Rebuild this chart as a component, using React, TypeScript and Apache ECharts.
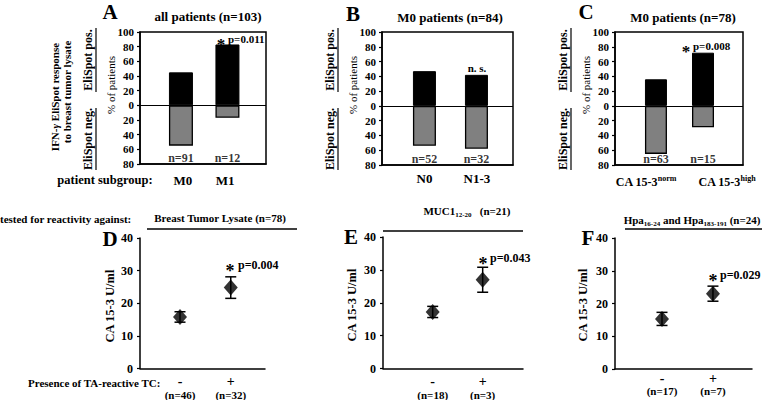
import React, { useEffect, useRef } from 'react';
import * as echarts from 'echarts';

const FONT = '"Liberation Serif", "Times New Roman", Times, serif';

// ---------- Top panels: IFN-γ EliSpot response (% of patients) ----------
// Panel A: all patients (n=103)
const catsA = ['M0', 'M1'];
const posA = [45, 83];
const negA = [55, 17];
const nA = [91, 12];
// Panel B: M0 patients (n=84)
const catsB = ['N0', 'N1-3'];
const posB = [47, 42];
const negB = [54, 58];
const nB = [52, 32];
// Panel C: M0 patients (n=78)
const catsC = ['norm', 'high'];
const posC = [36, 72];
const negC = [65, 29];
const nC = [63, 15];

const topTitles = ['all patients (n=103)', 'M0 patients (n=84)', 'M0 patients (n=78)'];
const topPText = ['p=0.011', 'n. s.', 'p=0.008'];
const topYTicks = [-80, -60, -40, -20, 0, 20, 40, 60, 80, 100];

// ---------- Bottom panels: CA 15-3 U/ml (mean ± error) ----------
const groups = ['-', '+'];
const meanD = [15.8, 24.8];
const errD = [1.6, 3.3];
const nD = [46, 32];
const meanE = [17.2, 27.0];
const errE = [1.7, 3.8];
const nE = [18, 3];
const meanF = [15.3, 23.0];
const errF = [2.0, 2.3];
const nF = [17, 7];
const bottomPText = ['p=0.004', 'p=0.043', 'p=0.029'];

// ---------- layout ----------
const topLayout = [
  { letter: 'A', cats: catsA, pos: posA, neg: negA, n: nA, grid: { left: 140, top: 32, width: 126, height: 132 }, xs: [0.325, 0.694], lxs: [0.341, 0.675], barW: 24, margin: 9, fs: 13, letterPos: [110, 12], titlePos: [208, 16], star: [221, 40], pPos: [228, 39], pAlign: 'left' },
  { letter: 'B', cats: catsB, pos: posB, neg: negB, n: nB, grid: { left: 382, top: 32, width: 131, height: 133 }, xs: [0.324, 0.721], lxs: [0.324, 0.725], barW: 23, margin: 6, fs: 13, letterPos: [353, 14], titlePos: [450, 17], star: null, pPos: [477, 68], pAlign: 'center' },
  { letter: 'C', cats: catsC, pos: posC, neg: negC, n: nC, grid: { left: 615, top: 32, width: 128, height: 133 }, xs: [0.32, 0.6875], lxs: [0.242, 0.875], barW: 22, margin: 9, fs: 12, letterPos: [586, 12], titlePos: [683, 17], star: [686, 47], pPos: [693, 46], pAlign: 'left' },
];

const bottomLayout = [
  { letter: 'D', mean: meanD, err: errD, n: nD, grid: { left: 140, top: 238, width: 125, height: 131 }, xs: [0.32, 0.726], letterPos: [110, 239], yname: [110, 306], star: [230, 266], pPos: [238, 265], line: [147, 229, 297], margin: 6, sLH: 14, nLH: 12 },
  { letter: 'E', mean: meanE, err: errE, n: nE, grid: { left: 383, top: 237, width: 140, height: 132 }, xs: [0.355, 0.712], letterPos: [351, 237], yname: [352, 305], star: [483, 259], pPos: [490, 258], line: [383, 231, 523], margin: 6, sLH: 14, nLH: 12 },
  { letter: 'F', mean: meanF, err: errF, n: nF, grid: { left: 615, top: 238, width: 137, height: 131 }, xs: [0.343, 0.715], letterPos: [588, 238], yname: [583, 305], star: [713, 276], pPos: [720, 275], line: [625, 229, 762], margin: 2, sLH: 14, nLH: 11 },
];

const R = Math.PI / 2;

const txt = (x: number, y: number, text: string, size: number, opts: any = {}) => ({
  type: 'text',
  x,
  y,
  rotation: opts.rot || 0,
  z: 100,
  style: {
    text,
    fill: '#000',
    fontFamily: FONT,
    fontSize: size,
    fontWeight: opts.weight || 'bold',
    fontStyle: opts.style || 'normal',
    align: opts.align || 'center',
    verticalAlign: 'middle',
    rich: opts.rich,
  },
});
const ln = (x1: number, y1: number, x2: number, y2: number, w = 1.2) => ({
  type: 'line',
  z: 100,
  shape: { x1, y1, x2, y2 },
  style: { stroke: '#000', lineWidth: w },
});
const star = (x: number, y: number, size = 17) => txt(x, y + size * 0.28, '*', size);

function buildOption() {
  const grid: any[] = [];
  const xAxis: any[] = [];
  const yAxis: any[] = [];
  const series: any[] = [];
  const graphic: any[] = [];

  topLayout.forEach((p, i) => {
    grid.push({ ...p.grid, show: true, borderColor: '#000', borderWidth: 1.5, backgroundColor: 'transparent' });
    const isC = p.letter === 'C';
    xAxis.push({
      gridIndex: i,
      type: 'value',
      min: 0,
      max: 1,
      splitLine: { show: false },
      axisTick: { show: false },
      axisLine: { show: true, onZero: false, lineStyle: { color: '#000', width: 1.5 } },
      axisLabel: {
        customValues: p.lxs,
        hideOverlap: false,
        margin: p.margin,
        color: '#000',
        fontFamily: FONT,
        fontWeight: 'bold',
        fontSize: p.fs,
        lineHeight: isC ? 16 : p.fs + 2,
        formatter: (v: number) => {
          const j = p.lxs.findIndex((x) => Math.abs(x - v) < 1e-6);
          if (j < 0) return '';
          return isC ? `CA 15-3{sup|${p.cats[j]}}` : p.cats[j];
        },
        rich: {
          sup: { fontSize: 8, fontWeight: 'bold', fontFamily: FONT, color: '#000', verticalAlign: 'top', lineHeight: 9 },
        },
      },
    });
    yAxis.push({
      gridIndex: i,
      type: 'value',
      min: topYTicks[0],
      max: topYTicks[topYTicks.length - 1],
      interval: 20,
      splitLine: { show: false },
      axisLine: { show: true, lineStyle: { color: '#000', width: 1.5 } },
      axisTick: { show: true, inside: false, length: 3, lineStyle: { color: '#000', width: 1.2 } },
      axisLabel: {
        margin: 6,
        color: '#000',
        fontFamily: FONT,
        fontWeight: 'bold',
        fontSize: 11,
        formatter: (v: number) => String(Math.abs(v)),
      },
    });
    series.push({
      type: 'bar',
      xAxisIndex: i,
      yAxisIndex: i,
      barWidth: p.barW,
      barGap: '-100%',
      data: p.xs.map((x, j) => [x, p.pos[j]]),
      itemStyle: { color: '#000', borderColor: '#000', borderWidth: 1 },
      markLine: {
        silent: true,
        symbol: ['none', 'none'],
        label: { show: false },
        lineStyle: { color: '#000', type: 'solid', width: 1.2 },
        data: [{ yAxis: 0 }],
      },
    });
    series.push({
      type: 'bar',
      xAxisIndex: i,
      yAxisIndex: i,
      barWidth: p.barW,
      barGap: '-100%',
      data: p.xs.map((x, j) => [x, -p.neg[j]]),
      itemStyle: { color: '#808080', borderColor: '#000', borderWidth: 1.3 },
    });
    series.push({
      type: 'scatter',
      xAxisIndex: i,
      yAxisIndex: i,
      symbolSize: 1,
      itemStyle: { color: 'transparent' },
      data: p.xs.map((x) => [x, -72]),
      label: {
        show: true,
        position: 'inside',
        formatter: (d: any) => 'n=' + p.n[d.dataIndex],
        color: '#000',
        fontFamily: FONT,
        fontWeight: 'bold',
        fontSize: 12,
      },
    });

    const L = p.grid.left;
    graphic.push(txt(p.letterPos[0], p.letterPos[1], p.letter, 21));
    graphic.push(txt(p.titlePos[0], p.titlePos[1], topTitles[i], 13));
    graphic.push(txt(L - 52, 60, 'EliSpot pos.', 12, { rot: R }));
    graphic.push(ln(L - 44, 28, L - 44, 92));
    graphic.push(txt(L - 52, 139, 'EliSpot neg.', 12, { rot: R }));
    graphic.push(ln(L - 44, 108, L - 44, 170));
    graphic.push(txt(L - 29, 85, '% of patients', 11, { rot: R, weight: 'normal' }));
    if (p.star) graphic.push(star(p.star[0], p.star[1]));
    graphic.push(txt(p.pPos[0], p.pPos[1], topPText[i], 11, { align: p.pAlign }));
  });

  graphic.push(
    txt(55, 97, 'IFN-{g|γ} EliSpot response', 11, {
      rot: R,
      rich: { g: { fontFamily: FONT, fontSize: 11, fontWeight: 'bold', fontStyle: 'italic', fill: '#000' } },
    })
  );
  graphic.push(txt(67, 92, 'to breast tumor lysate', 11, { rot: R }));
  graphic.push(txt(105, 180, 'patient subgroup:', 12.5));

  // Bottom panels
  const bottomTitles = [
    '{b|Breast Tumor Lysate} {b|(n=78)}',
    '{b|MUC1}{s|12-20}{b|   (n=21)}',
    '{b|Hpa}{s|16-24}{b| and Hpa}{s|183-191}{b| (n=24)}',
  ];
  const titlePos = [
    [220, 218],
    [467, 211],
    [692, 220],
  ];
  const richTitle = {
    b: { fontFamily: FONT, fontSize: 11, fontWeight: 'bold', fill: '#000', lineHeight: 15 },
    s: { fontFamily: FONT, fontSize: 7, fontWeight: 'bold', fill: '#000', verticalAlign: 'bottom', lineHeight: 8 },
  };

  bottomLayout.forEach((p, k) => {
    const i = k + 3;
    grid.push({ ...p.grid, show: false });
    xAxis.push({
      gridIndex: i,
      type: 'value',
      min: 0,
      max: 1,
      splitLine: { show: false },
      axisTick: { show: false },
      axisLine: { show: true, onZero: false, lineStyle: { color: '#000', width: 1.5 } },
      axisLabel: {
        customValues: p.xs,
        hideOverlap: false,
        margin: p.margin,
        color: '#000',
        formatter: (v: number) => {
          const j = p.xs.findIndex((x) => Math.abs(x - v) < 1e-6);
          if (j < 0) return '';
          return `{s|${groups[j]}}\n{n|(n=${p.n[j]})}`;
        },
        rich: {
          s: { fontFamily: FONT, fontSize: 14, fontWeight: 'bold', color: '#000', lineHeight: p.sLH },
          n: { fontFamily: FONT, fontSize: 11, fontWeight: 'bold', color: '#000', lineHeight: p.nLH },
        },
      },
    });
    yAxis.push({
      gridIndex: i,
      type: 'value',
      min: 0,
      max: 40,
      interval: 10,
      splitLine: { show: false },
      axisLine: { show: true, lineStyle: { color: '#000', width: 1.5 } },
      axisTick: { show: true, inside: false, length: 3, lineStyle: { color: '#000', width: 1.2 } },
      axisLabel: { margin: 7, color: '#000', fontFamily: FONT, fontWeight: 'bold', fontSize: 12 },
    });
    series.push({
      type: 'custom',
      xAxisIndex: i,
      yAxisIndex: i,
      z: 3,
      encode: { x: 0, y: [1, 2] },
      data: p.xs.map((x, j) => [x, p.mean[j] - p.err[j], p.mean[j] + p.err[j]]),
      renderItem: (params: any, api: any) => {
        const x = api.value(0);
        const a = api.coord([x, api.value(2)]);
        const b = api.coord([x, api.value(1)]);
        const w = 5.5;
        const st = { stroke: '#000', lineWidth: 1.5 };
        return {
          type: 'group',
          children: [
            { type: 'line', shape: { x1: a[0], y1: a[1], x2: b[0], y2: b[1] }, style: st },
            { type: 'line', shape: { x1: a[0] - w, y1: a[1], x2: a[0] + w, y2: a[1] }, style: st },
            { type: 'line', shape: { x1: b[0] - w, y1: b[1], x2: b[0] + w, y2: b[1] }, style: st },
          ],
        };
      },
    });
    series.push({
      type: 'scatter',
      xAxisIndex: i,
      yAxisIndex: i,
      z: 4,
      symbol: 'diamond',
      symbolSize: [14, 16],
      itemStyle: { color: '#000' },
      data: p.xs.map((x, j) => [x, p.mean[j]]),
    });

    graphic.push(txt(p.letterPos[0], p.letterPos[1], p.letter, 21));
    graphic.push(txt(p.yname[0], p.yname[1], 'CA 15-3 U/ml', 12.5, { rot: R }));
    graphic.push(txt(titlePos[k][0], titlePos[k][1], bottomTitles[k], 11, { rich: richTitle }));
    graphic.push(ln(p.line[0], p.line[1], p.line[2], p.line[1], 1.3));
    graphic.push(star(p.star[0], p.star[1], 18));
    graphic.push(txt(p.pPos[0], p.pPos[1], bottomPText[k], 12, { align: 'left' }));
  });

  graphic.push(txt(0, 219, 'tested for reactivity against:', 11, { align: 'left' }));
  graphic.push(txt(28, 383, 'Presence of TA-reactive TC:', 11, { align: 'left' }));

  return {
    animation: false,
    backgroundColor: '#fff',
    grid,
    xAxis,
    yAxis,
    series,
    graphic: { elements: graphic },
  };
}

export default function App() {
  const ref = useRef<HTMLDivElement>(null);
  useEffect(() => {
    if (!ref.current) return;
    const chart = echarts.init(ref.current, null, { renderer: 'svg' });
    chart.setOption(buildOption() as any);
    return () => chart.dispose();
  }, []);
  return (
    <div
      ref={ref}
      style={{ position: 'fixed', left: 0, top: 0, width: 762, height: 400, background: '#fff' }}
    />
  );
}
